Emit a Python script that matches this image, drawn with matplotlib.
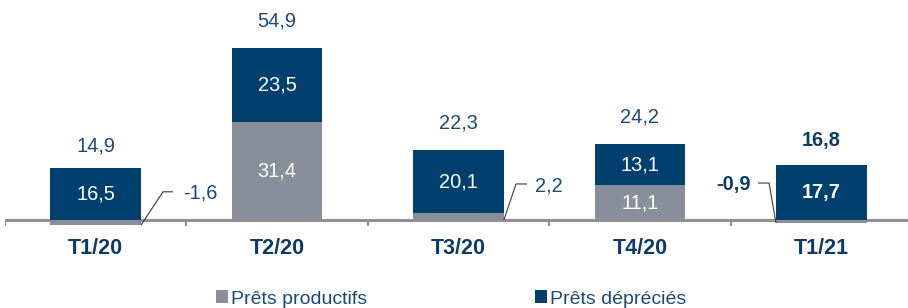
import numpy as np
import matplotlib
matplotlib.use("Agg")
import matplotlib.pyplot as plt
from matplotlib.patches import Patch

plt.rcParams['font.family'] = ['Liberation Sans', 'DejaVu Sans']

categories = ["T1/20", "T2/20", "T3/20", "T4/20", "T1/21"]
prets_productifs = [-1.6, 31.4, 2.2, 11.1, -0.9]
prets_deprecies = [16.5, 23.5, 20.1, 13.1, 17.7]
totals = [14.9, 54.9, 22.3, 24.2, 16.8]
bold_flags = [False, False, False, False, True]

GREY = '#8A8E9B'
NAVY = '#003F6E'
TXT = '#1B4A78'
TXT_BOLD = '#0E3B66'
AXIS = '#8F9094'

W, H = 908, 308
fig = plt.figure(figsize=(W / 100, H / 100), dpi=100)
ax = fig.add_axes([5 / W, 0, 907 / W, 1])
px_per_unit = 3.133
ax.set_xlim(-0.5, 4.5)
ax.set_ylim(-88 / px_per_unit, 220 / px_per_unit)
ax.axis('off')

x = np.arange(len(categories))
grey = np.array(prets_productifs)
navy = np.array(prets_deprecies)
bw = 0.5

# axis line and boundary ticks
ax.axhline(0, color=AXIS, lw=2.2, zorder=1)
ax.vlines(np.arange(-0.5, 5.0, 1.0), -2.0, 0, color=AXIS, lw=1.6, zorder=1)

ax.bar(x, grey, width=bw, color=GREY, zorder=2, linewidth=0)
ax.bar(x, navy, width=bw, bottom=np.maximum(grey, 0), color=NAVY, zorder=2, linewidth=0)

FS = 14.4
FS_CAT = 15.5
# inner labels
for i in range(len(x)):
    b = bold_flags[i]
    base = max(grey[i], 0)
    ax.text(x[i], base + navy[i] / 2, f"{navy[i]:.1f}".replace('.', ','),
            ha='center', va='center', color='white', fontsize=FS,
            fontweight='bold' if b else 'normal', zorder=3)
    if abs(grey[i]) > 5:
        ax.text(x[i], grey[i] / 2, f"{grey[i]:.1f}".replace('.', ','),
                ha='center', va='center', color='white', fontsize=FS,
                fontweight='bold' if b else 'normal', zorder=3)
    # totals
    ax.text(x[i], totals[i] + 8.7, f"{totals[i]:.1f}".replace('.', ','),
            ha='center', va='center', color=TXT_BOLD if b else TXT, fontsize=FS,
            fontweight='bold' if b else 'normal')
    # category labels
    ax.text(x[i], -9.2, categories[i], ha='center', va='center',
            color=TXT_BOLD, fontsize=FS_CAT, fontweight='bold')

# leader-line labels for small values: (index, side, elbow_dx, elbow_y, arm, gap)
leaders = [
    (0, 1, 0.121, 9.0, 0.055, 0.055),
    (2, 1, 0.067, 11.5, 0.061, 0.042),
    (4, -1, 0.038, 11.8, 0.061, 0.040),
]
for i, side, edx, ey, arm, gap in leaders:
    x0 = x[i] + side * bw / 2
    y0 = min(grey[i], 0)
    x1 = x0 + side * edx
    x2 = x1 + side * arm
    ax.plot([x0, x1, x2], [y0, ey, ey], color='#3A3A3A', lw=0.8, zorder=3,
            solid_capstyle='butt')
    b = bold_flags[i]
    ax.text(x2 + side * gap, ey - 0.5, f"{grey[i]:.1f}".replace('.', ','),
            ha='left' if side > 0 else 'right', va='center',
            color=TXT_BOLD if b else TXT, fontsize=FS,
            fontweight='bold' if b else 'normal')

handles = [Patch(facecolor=GREY, edgecolor='none', label='Prêts productifs'),
           Patch(facecolor=NAVY, edgecolor='none', label='Prêts dépréciés')]
leg = fig.legend(handles=handles, loc='center', bbox_to_anchor=(451 / W, 1 - 299 / H),
                 ncol=2, frameon=False, fontsize=14, handlelength=0.62,
                 handleheight=0.62, handletextpad=0.15, columnspacing=8.6,
                 borderpad=0, borderaxespad=0)
for t in leg.get_texts():
    t.set_color(TXT)

fig.savefig('out.png', dpi=100)
